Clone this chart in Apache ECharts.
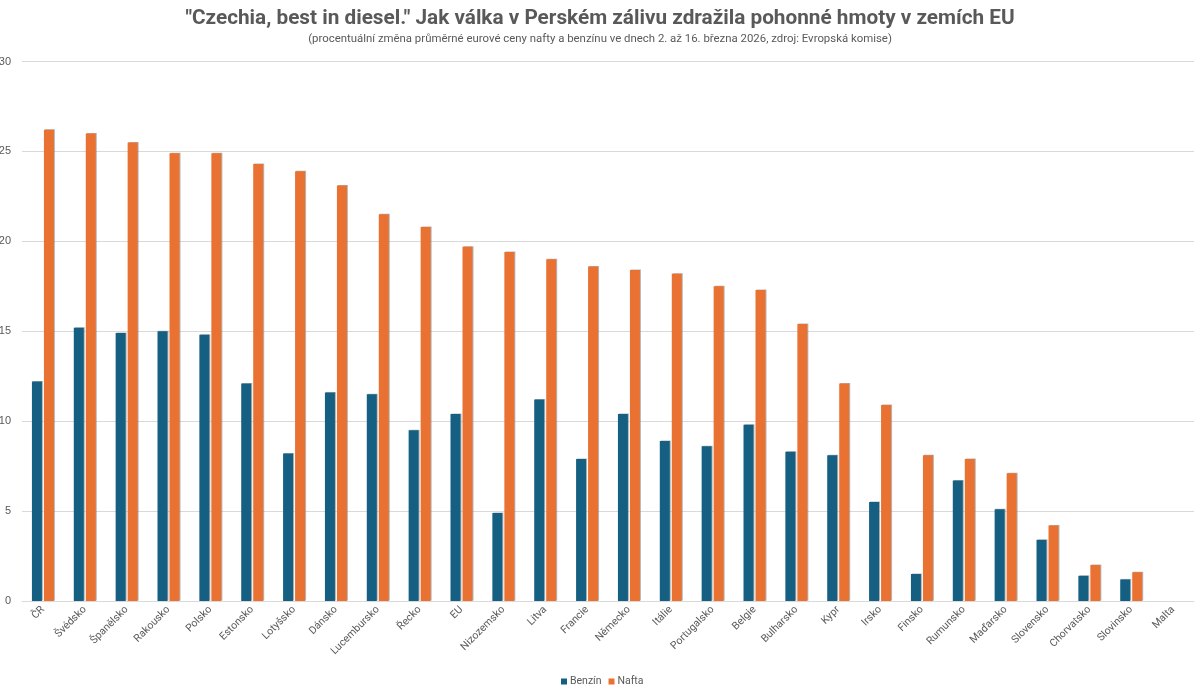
<!DOCTYPE html>
<html>
<head>
<meta charset="utf-8">
<style>
  html, body { margin: 0; padding: 0; background: #fff; }
  #chart { width: 1200px; height: 696px; }
</style>
<script src="https://cdn.jsdelivr.net/npm/echarts@6/dist/echarts.min.js"></script>
</head>
<body>
<div id="chart"></div>
<script>
const categories = ['ČR', 'Švédsko', 'Španělsko', 'Rakousko', 'Polsko', 'Estonsko', 'Lotyšsko', 'Dánsko',
  'Lucembursko', 'Řecko', 'EU', 'Nizozemsko', 'Litva', 'Francie', 'Německo', 'Itálie', 'Portugalsko', 'Belgie',
  'Bulharsko', 'Kypr', 'Irsko', 'Finsko', 'Rumunsko', 'Maďarsko', 'Slovensko', 'Chorvatsko', 'Slovinsko', 'Malta'];
const benzin = [12.2, 15.2, 14.9, 15.0, 14.8, 12.1, 8.2, 11.6, 11.5, 9.5, 10.4, 4.9, 11.2, 7.9, 10.4, 8.9, 8.6, 9.8,
  8.3, 8.1, 5.5, 1.5, 6.7, 5.1, 3.4, 1.4, 1.2, 0];
const nafta = [26.2, 26.0, 25.5, 24.9, 24.9, 24.3, 23.9, 23.1, 21.5, 20.8, 19.7, 19.4, 19.0, 18.6, 18.4, 18.2, 17.5, 17.3,
  15.4, 12.1, 10.9, 8.1, 7.9, 7.1, 4.2, 2.0, 1.6, 0];

const chart = echarts.init(document.getElementById('chart'));

const barStyle = (color) => ({
  color: color,
  shadowColor: 'rgba(120,120,120,0.55)',
  shadowBlur: 0,
  shadowOffsetX: 1,
  shadowOffsetY: -0.5
});

chart.setOption({
  animation: false,
  textStyle: { fontFamily: 'Roboto' },
  title: {
    text: '"Czechia, best in diesel." Jak válka v Perském zálivu zdražila pohonné hmoty v zemích EU',
    subtext: '(procentuální změna průměrné eurové ceny nafty a benzínu ve dnech 2. až 16. března 2026, zdroj: Evropská komise)',
    left: 'center',
    top: 3,
    itemGap: 5,
    textStyle: { fontFamily: 'Roboto', fontSize: 20.75, fontWeight: 'bold', color: '#595959' },
    subtextStyle: { fontFamily: 'Roboto', fontSize: 11.4, color: '#595959' }
  },
  legend: {
    bottom: 4,
    left: 556,
    itemWidth: 6,
    itemHeight: 6,
    itemGap: 7,
    icon: 'rect',
    textStyle: { fontSize: 10.5, color: '#595959', padding: [0, 0, 0, -2] },
    data: ['Benzín', 'Nafta']
  },
  grid: { left: 22, right: 6, top: 61.5, bottom: 95, outerBoundsMode: 'none' },
  xAxis: {
    type: 'category',
    data: categories,
    axisTick: { show: false },
    axisLine: { lineStyle: { color: '#d9d9d9', width: 1 } },
    axisLabel: { rotate: 45, interval: 0, fontSize: 10.5, color: '#595959', margin: 7, padding: [6, 0, 0, 0] }
  },
  yAxis: {
    type: 'value',
    min: 0,
    max: 30,
    interval: 5,
    axisLine: { show: false },
    axisTick: { show: false },
    axisLabel: { fontSize: 11, color: '#595959', margin: 11, fontFamily: 'Liberation Sans' },
    splitLine: { lineStyle: { color: '#d9d9d9', width: 1 } }
  },
  series: [
    { name: 'Benzín', type: 'bar', data: benzin, barWidth: 10, barGap: '20%', itemStyle: barStyle('#156082') },
    { name: 'Nafta', type: 'bar', data: nafta, barWidth: 10, itemStyle: barStyle('#E97132') }
  ]
});
</script>
</body>
</html>
